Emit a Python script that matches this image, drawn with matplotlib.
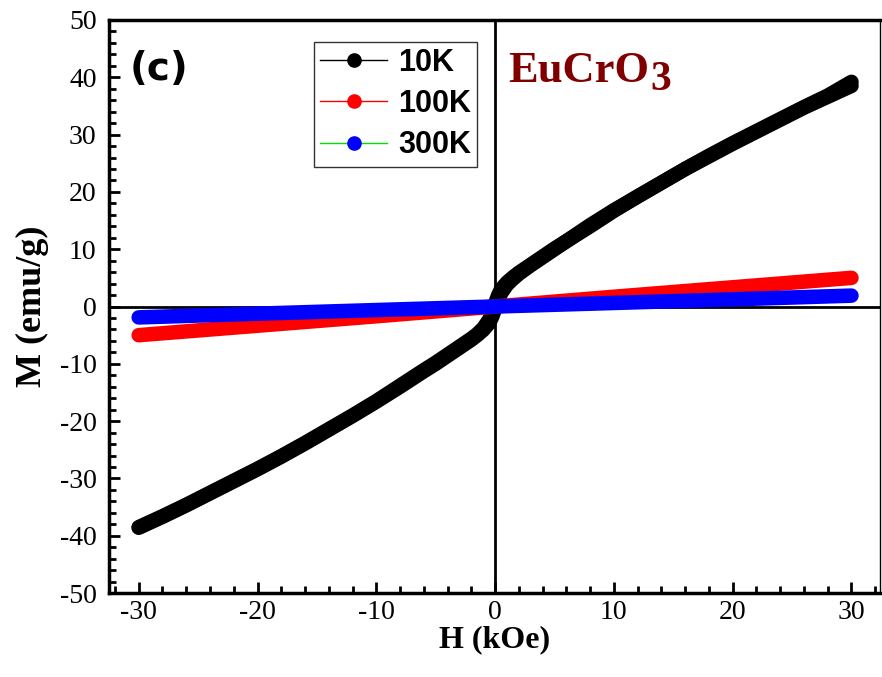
import matplotlib
matplotlib.use("Agg")
import matplotlib.pyplot as plt
from matplotlib.lines import Line2D
from matplotlib.ticker import MultipleLocator

plt.rcParams["axes.unicode_minus"] = False

# field sweep for the 10K loop (kOe), descending branch +30 -> -30
h_10k_down = [30, 28, 26, 24, 22, 20, 18, 16, 14, 12, 10, 8, 6, 5, 4, 3, 2, 1.5, 1,
              0.5, 0.25, 0, -0.25, -0.5, -1, -1.5, -2, -3, -4, -5, -6, -8, -10, -12,
              -14, -16, -18, -20, -22, -24, -26, -28, -30]
m_10k_down = [39.2, 36.8, 34.8, 32.7, 30.6, 28.5, 26.3, 24.0, 21.6, 19.2, 16.8, 14.2,
              11.4, 10.1, 8.7, 7.3, 5.9, 5.1, 4.2, 3.0, 1.9, 0.5, -1.0, -2.3, -3.8,
              -4.8, -5.6, -7.0, -8.4, -9.8, -11.1, -13.8, -16.5, -19.0, -21.4, -23.8,
              -26.1, -28.3, -30.4, -32.5, -34.6, -36.6, -38.5]
# ascending branch -30 -> +30
h_10k_up = [-30, -28, -26, -24, -22, -20, -18, -16, -14, -12, -10, -8, -6, -5, -4, -3,
            -2, -1.5, -1, -0.5, -0.25, 0, 0.25, 0.5, 1, 1.5, 2, 3, 4, 5, 6, 8, 10, 12,
            14, 16, 18, 20, 22, 24, 26, 28, 30]
m_10k_up = [-38.6, -36.7, -34.7, -32.6, -30.5, -28.4, -26.2, -23.9, -21.5, -19.1, -16.6,
            -14.0, -11.3, -10.0, -8.6, -7.2, -5.8, -5.0, -4.1, -2.9, -1.8, -0.4, 1.0,
            2.3, 3.8, 4.8, 5.7, 7.2, 8.6, 10.0, 11.4, 14.0, 16.7, 19.2, 21.6, 24.0,
            26.2, 28.4, 30.5, 32.6, 34.7, 36.6, 38.5]

h_lin = [-30, -20, -10, 0, 10, 20, 30]
m_100k = [-5.0, -3.35, -1.7, 0.0, 1.7, 3.35, 5.0]
m_300k = [-1.9, -1.25, -0.62, 0.0, 0.62, 1.25, 1.9]

labels = ["10K", "100K", "300K"]
line_colors = ["black", "red", "#00e000"]
dot_colors = ["black", "red", "blue"]

fig = plt.figure(figsize=(8.82, 6.77), dpi=100)
ax = fig.add_axes([0.1236, 0.124, 0.8741, 0.8465])

band = dict(lw=10.5, solid_capstyle="round", solid_joinstyle="round")
ax.plot(h_10k_down, m_10k_down, color="black", zorder=3, **band)
ax.plot(h_10k_up, m_10k_up, color="black", zorder=3, **band)
ax.plot(h_lin, m_100k, color="red", zorder=4, **band)
ax.plot(h_lin, m_300k, color="blue", zorder=5, **band)

# axes through origin
ax.axhline(0, color="black", lw=2, zorder=2)
ax.axvline(0, color="black", lw=2, zorder=2)

ax.set_xlim(-32.5, 32.4)
ax.set_ylim(-50, 50)
ax.xaxis.set_major_locator(MultipleLocator(10))
ax.xaxis.set_minor_locator(MultipleLocator(2))
ax.yaxis.set_major_locator(MultipleLocator(10))
ax.yaxis.set_minor_locator(MultipleLocator(2))
ax.tick_params(which="both", direction="in", top=False, right=False, width=2)
ax.tick_params(which="major", length=8, labelsize=20, pad=5)
ax.tick_params(axis="y", which="major", pad=9)
ax.tick_params(which="minor", length=5)
for lab in ax.get_xticklabels() + ax.get_yticklabels():
    lab.set_fontfamily("Liberation Serif")

for side in ["left", "bottom", "top"]:
    ax.spines[side].set_linewidth(2.5)
ax.spines["right"].set_linewidth(1)

ax.set_xlabel("H (kOe)", family="Liberation Serif", fontweight="bold", fontsize=23, labelpad=0)
ax.set_ylabel("M (emu/g)", family="Liberation Serif", fontweight="bold", fontsize=26, labelpad=8)

handles = [Line2D([], [], color=lc, lw=1, marker="o", ms=9.5, mfc=dc, mec=dc)
           for lc, dc in zip(line_colors, dot_colors)]
leg = ax.legend(handles, labels, loc="upper left", bbox_to_anchor=(0.266, 0.962),
                borderaxespad=0, frameon=True, fancybox=False, edgecolor="black",
                handlelength=2.2, handletextpad=0.35, labelspacing=0.37, borderpad=0.2,
                prop={"family": "Liberation Sans", "weight": "bold", "size": 22})
leg.get_frame().set_linewidth(1)
leg.set_zorder(10)

ax.text(0.027, 0.895, "(c)", transform=ax.transAxes, family="DejaVu Sans",
        fontweight="bold", fontsize=28, va="baseline")
t = ax.text(0.5175, 0.892, "EuCrO", transform=ax.transAxes, family="Liberation Serif",
            fontweight="bold", fontsize=32, color="#800000", va="baseline")
ax.annotate("3", xy=(1, 0), xycoords=t, xytext=(1, -6), textcoords="offset points",
            family="Liberation Serif", fontweight="bold", fontsize=30, color="#800000",
            va="bottom", ha="left")

fig.savefig("out.png", dpi=100)
